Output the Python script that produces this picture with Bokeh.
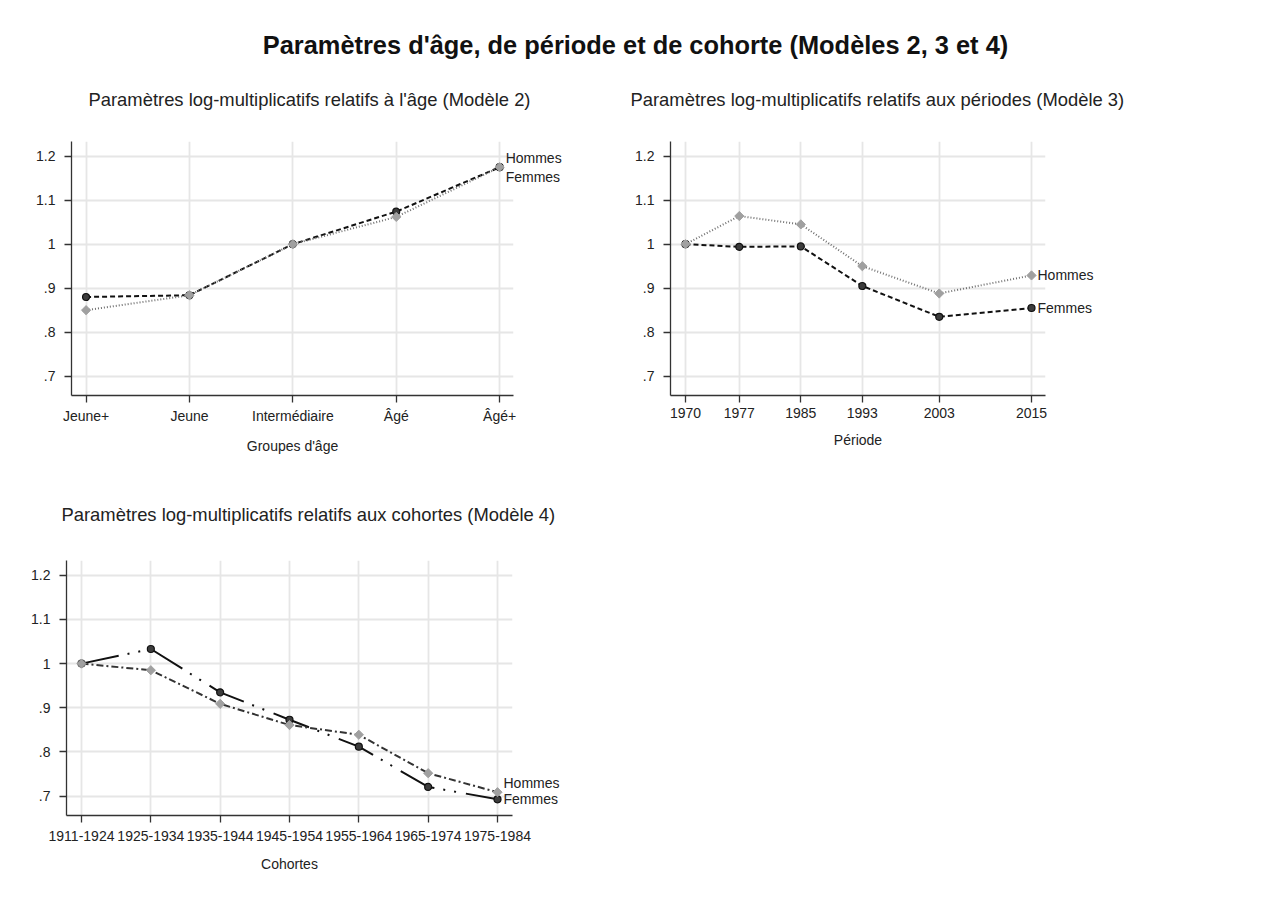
from bokeh.plotting import figure
from bokeh.models import (Label, FixedTicker, CustomJSTickFormatter, Div, Range1d, Title)
from bokeh.layouts import column, row
from bokeh.embed import file_html
from bokeh.resources import INLINE

# ---------------- data ----------------
main_title = "Paramètres d'âge, de période et de cohorte (Modèles 2, 3 et 4)"
series_names = ["Hommes", "Femmes"]

age_title = "Paramètres log-multiplicatifs relatifs à l'âge (Modèle 2)"
age_xlabel = "Groupes d'âge"
age_groups = ["Jeune+", "Jeune", "Intermédiaire", "Âgé", "Âgé+"]
age_hommes = [0.850, 0.884, 1.000, 1.062, 1.175]
age_femmes = [0.880, 0.884, 1.000, 1.074, 1.175]

period_title = "Paramètres log-multiplicatifs relatifs aux périodes (Modèle 3)"
period_xlabel = "Période"
periods = [1970, 1977, 1985, 1993, 2003, 2015]
period_hommes = [1.000, 1.064, 1.045, 0.950, 0.888, 0.929]
period_femmes = [1.000, 0.994, 0.995, 0.905, 0.835, 0.855]

cohort_title = "Paramètres log-multiplicatifs relatifs aux cohortes (Modèle 4)"
cohort_xlabel = "Cohortes"
cohorts = ["1911-1924", "1925-1934", "1935-1944", "1945-1954",
           "1955-1964", "1965-1974", "1975-1984"]
cohort_hommes = [1.000, 0.985, 0.909, 0.861, 0.839, 0.752, 0.709]
cohort_femmes = [1.000, 1.033, 0.935, 0.873, 0.812, 0.721, 0.693]

y_ticks = [0.7, 0.8, 0.9, 1.0, 1.1, 1.2]
y_tick_labels = [".7", ".8", ".9", "1", "1.1", "1.2"]

# ---------------- style ----------------
FONT = "Liberation Sans"
TXT = "#222222"
AXIS = "#333333"
GRID = "#e6e6e6"
F_LINE = "#111111"
F_FILL = "#3c3c3c"
H_MARK = "#a0a0a0"

lookup_code = """
const i = tvals.findIndex(t => Math.abs(t - tick) < 1e-9);
return i >= 0 ? tlabels[i] : '';
"""


def make_panel(title, xlabel, xs, x_labels, hommes, femmes, x_range, y_range,
               frame_w, frame_h, borders, title_offset, gap,
               h_dash, f_dash, h_color, label_yoff, tick_standoff, xlabel_standoff):
    left, right, top, bottom = borders
    p = figure(frame_width=frame_w, frame_height=frame_h,
               x_range=Range1d(*x_range), y_range=Range1d(*y_range),
               output_backend="svg", toolbar_location=None,
               min_border_left=left, min_border_right=right,
               min_border_top=top, min_border_bottom=bottom,
               title=title)
    p.title.align = "left"
    p.title.offset = title_offset
    p.title.standoff = 6
    p.title.text_font = FONT
    p.title.text_font_size = "18.4px"
    p.title.text_font_style = "normal"
    p.title.text_color = TXT
    # blank spacer between the panel title and the plotting area
    p.add_layout(Title(text=" ", text_font_size="1px", standoff=gap), "above")
    p.outline_line_color = None
    p.background_fill_color = "white"
    p.border_fill_color = "white"

    p.xaxis.ticker = FixedTicker(ticks=list(xs))
    if x_labels is not None:
        p.xaxis.formatter = CustomJSTickFormatter(
            args=dict(tvals=list(xs), tlabels=list(x_labels)), code=lookup_code)
    p.yaxis.ticker = FixedTicker(ticks=y_ticks)
    p.yaxis.formatter = CustomJSTickFormatter(
        args=dict(tvals=y_ticks, tlabels=y_tick_labels), code=lookup_code)

    for ax in (p.xaxis[0], p.yaxis[0]):
        ax.axis_line_color = AXIS
        ax.axis_line_width = 1.3
        ax.major_tick_line_color = AXIS
        ax.major_tick_line_width = 1.3
        ax.major_tick_in = 0
        ax.major_tick_out = 7
        ax.minor_tick_line_color = None
        ax.major_label_text_font = FONT
        ax.major_label_text_font_size = "14px"
        ax.major_label_text_color = TXT
        ax.axis_label_text_font = FONT
        ax.axis_label_text_font_size = "14px"
        ax.axis_label_text_font_style = "normal"
        ax.axis_label_text_color = TXT
    p.xaxis.major_label_standoff = tick_standoff
    p.yaxis.major_label_standoff = 9
    p.xaxis.axis_label = xlabel
    p.xaxis.axis_label_standoff = xlabel_standoff

    p.grid.grid_line_color = GRID
    p.grid.grid_line_width = 1.8

    # Femmes first, Hommes drawn on top
    p.line(xs, femmes, line_color=F_LINE, line_width=2, line_dash=f_dash)
    p.line(xs, hommes, line_color=h_color, line_width=2, line_dash=h_dash)
    p.scatter(xs, femmes, marker="circle", size=7, fill_color=F_FILL,
              line_color=F_LINE, line_width=1.2)
    p.scatter(xs, hommes, marker="square", angle=45, angle_units="deg", size=6.5,
              fill_color=H_MARK, line_color=H_MARK)

    # series names next to the last points (placed in the right-hand panel so
    # that they are not clipped by the plotting area)
    for name, series, yoff in zip(series_names, (hommes, femmes), label_yoff):
        p.add_layout(Label(x=xs[-1], y=series[-1], text=name, x_offset=6, y_offset=yoff,
                           text_baseline="middle", text_align="left",
                           text_font=FONT, text_font_size="14px", text_color=TXT),
                     "right")
    return p


age_idx = list(range(len(age_groups)))
cohort_idx = list(range(len(cohorts)))

p1 = make_panel(age_title, age_xlabel, age_idx, age_groups, age_hommes, age_femmes,
                (-0.141, 4.134), (0.6561, 1.2334), 442, 254, (71, 82, 69, 75),
                17, 26, "1 2", "5 3", "#707070", [9, -10], 5, 11)
p2 = make_panel(period_title, period_xlabel, periods, None, period_hommes, period_femmes,
                (1968.05, 2016.82), (0.6561, 1.2334), 375, 254, (47, 100, 69, 75),
                -40, 26, "1 2", "5 3", "#707070", [0, 0], 5, 11)
p3 = make_panel(cohort_title, cohort_xlabel, cohort_idx, cohorts, cohort_hommes, cohort_femmes,
                (-0.2165, 6.2165), (0.6563, 1.2333), 446, 255, (66, 80, 90, 80),
                -5, 30, "7 3 2 3", "38 9 2 9 2 10", "#333333", [9, 0], 8, 12)

header = Div(text=f'<div style="font-family:\'{FONT}\'; font-weight:bold; font-size:25.4px; '
                  f'line-height:26px; color:#111; text-align:center; padding-top:27px; '
                  f'padding-left:29px; width:1232px;">{main_title}</div>',
             width=1253, height=62)

layout = column(header, row(p1, p2), p3)

with open("out.html", "w") as f:
    f.write(file_html(layout, INLINE, title="Paramètres d'âge, de période et de cohorte"))
